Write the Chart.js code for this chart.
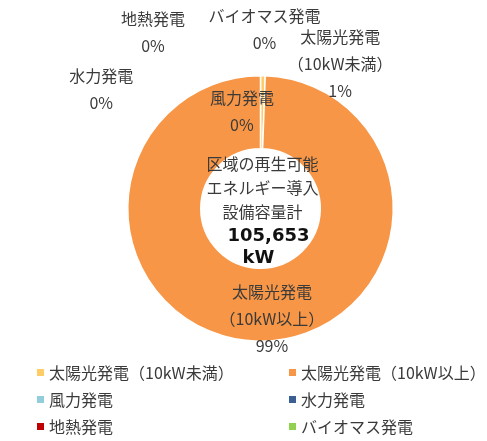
<!DOCTYPE html>
<html>
<head>
<meta charset="utf-8">
<script src="https://cdn.jsdelivr.net/npm/chart.js@4"></script>
<style>
  html,body{margin:0;padding:0;background:#fff;}
  #wrap{width:487px;height:441px;position:relative;}
</style>
</head>
<body>
<div id="wrap"><canvas id="chart"></canvas></div>
<script>
// data
const labels = ['太陽光発電（10kW未満）','太陽光発電（10kW以上）','風力発電','水力発電','地熱発電','バイオマス発電'];
const values = [600, 105053, 0, 0, 0, 0];
const pctText = ['1%','99%','0%','0%','0%','0%'];
const labelLines = [['太陽光発電','（10kW未満）'],['太陽光発電','（10kW以上）'],['風力発電'],['水力発電'],['地熱発電'],['バイオマス発電']];
const colors = ['#FFCC66','#F79646','#92CDDC','#3A5F92','#C00000','#92D050'];
const centerLines = ['区域の再生可能','エネルギー導入','設備容量計'];
const totalText = ['105,653','kW'];

// label anchors, in units of the outer radius from the centre
const labelAt = [[0.60,-1.09],[0.086,0.835],[-0.14,-0.73],[-1.20,-0.90],[-0.81,-1.33],[0.03,-1.35]];

const TXT = '#3a3a3a';
const JP = '"Noto Sans CJK JP", "Noto Sans", sans-serif';

const labelsPlugin = {
  id:'sliceLabels',
  afterDraw(c){
    const ctx=c.ctx, arc=c.getDatasetMeta(0).data[0];
    const cx=arc.x, cy=arc.y, R=arc.outerRadius;
    ctx.save();
    ctx.fillStyle=TXT; ctx.textAlign='center'; ctx.textBaseline='middle';
    ctx.font='16px '+JP;
    labelLines.forEach((ls,i)=>{
      const lines=[...ls,pctText[i]];
      const x=cx+labelAt[i][0]*R, y0=cy+labelAt[i][1]*R-(lines.length-1)*13.5;
      lines.forEach((t,k)=>ctx.fillText(t,x,y0+k*27));
    });
    // centre text
    centerLines.forEach((t,k)=>ctx.fillText(t,cx+2,cy-45+k*24));
    ctx.font='bold 18px "DejaVu Sans", sans-serif'; ctx.fillStyle='#111';
    ctx.fillText(totalText[0],cx+8,cy+28);
    ctx.fillText(totalText[1],cx-2,cy+50);
    // legend, two columns
    ctx.font='16px '+JP; ctx.textAlign='left';
    labels.forEach((t,i)=>{
      const col=i%2, row=Math.floor(i/2);
      const bx=col?289:37, by=372.5+row*27;
      ctx.fillStyle=colors[i]; ctx.fillRect(bx,by-3.5,7,7);
      ctx.fillStyle=TXT; ctx.fillText(t,bx+12,by);
    });
    ctx.restore();
  }
};

new Chart(document.getElementById('chart'),{
  type:'doughnut',
  data:{labels,datasets:[{data:values,backgroundColor:colors,borderColor:'#fff',borderWidth:1.5}]},
  options:{
    responsive:true,maintainAspectRatio:false,animation:false,
    cutout:'45%',
    layout:{padding:{top:75,bottom:99,left:127,right:93}},
    plugins:{legend:{display:false},tooltip:{enabled:false}}
  },
  plugins:[labelsPlugin]
});
</script>
</body>
</html>
